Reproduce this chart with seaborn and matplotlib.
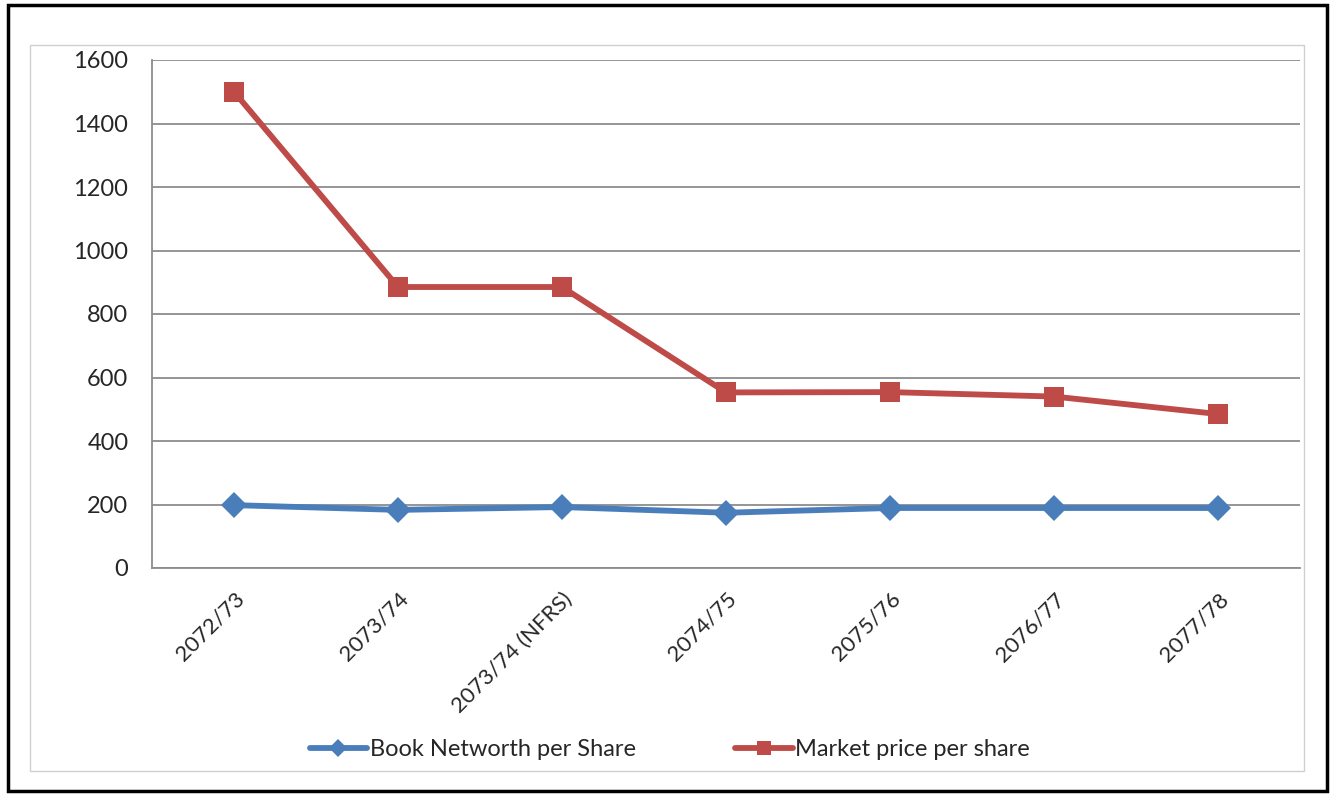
import pandas as pd
import matplotlib.pyplot as plt
import seaborn as sns
from matplotlib.patches import Rectangle

years = ['2072/73', '2073/74', '2073/74 (NFRS)', '2074/75', '2075/76', '2076/77', '2077/78']
book_networth = [198, 183, 192, 174, 189, 189, 189]
market_price = [1500, 885, 885, 553, 554, 540, 485]

df = pd.DataFrame({'Year': years,
                   'Book Networth per Share': book_networth,
                   'Market price per share': market_price})

sns.set_style('white')
plt.rcParams['font.family'] = ['Lato', 'DejaVu Sans']

fig = plt.figure(figsize=(13.34, 7.95), dpi=100)
ax = fig.add_axes([152 / 1334, 1 - 568 / 795, 1148 / 1334, 508 / 795])

blue = '#4A7EBB'
red = '#BE4B48'
grid = '#8C8C8C'

sns.lineplot(data=df, x='Year', y='Book Networth per Share', ax=ax, color=blue,
             linewidth=4.2, marker='D', markersize=13, markeredgewidth=0,
             label='Book Networth per Share', sort=False)
sns.lineplot(data=df, x='Year', y='Market price per share', ax=ax, color=red,
             linewidth=4.2, marker='s', markersize=15, markeredgewidth=0,
             label='Market price per share', sort=False)

ax.set_xlim(-0.5, len(years) - 0.5)
ax.set_ylim(0, 1600)
ax.set_yticks(range(0, 1601, 200))
ax.yaxis.grid(True, color=grid, linewidth=1.3)
ax.set_axisbelow(True)
ax.set_xlabel('')
ax.set_ylabel('')

# Excel-style: tick marks between categories, labels centred
ax.set_xticks([i - 0.5 for i in range(len(years) + 1)])
ax.set_xticklabels([])
ax.set_xticks(range(len(years)), minor=True)
ax.set_xticklabels(years, minor=True, rotation=45, ha='right', rotation_mode='anchor',
                   fontsize=16)
ax.tick_params(axis='x', which='major', length=6, width=1.3, color=grid, direction='out')
ax.tick_params(axis='x', which='minor', length=0, pad=15)
ax.tick_params(axis='y', length=5, width=1.3, color=grid, labelsize=17, pad=12)

for side in ['top', 'right']:
    ax.spines[side].set_visible(False)
for side in ['left', 'bottom']:
    ax.spines[side].set_color(grid)
    ax.spines[side].set_linewidth(1.3)

handles, labels = ax.get_legend_handles_labels()
ax.legend(handles, labels, loc='center', bbox_to_anchor=(0.502, 1 - 750 / 795),
          bbox_transform=fig.transFigure, ncol=2, frameon=False, fontsize=17,
          handlelength=2.45, markerscale=0.7, columnspacing=4.2, handletextpad=0.1)

# chart area border and outer frame
fig.patches.append(Rectangle((30 / 1334, 1 - 771 / 795), 1274 / 1334, 726 / 795,
                             transform=fig.transFigure, fill=False,
                             edgecolor='#D0D0D0', linewidth=1))
fig.patches.append(Rectangle((8 / 1334, 4 / 795), 1319 / 1334, 786 / 795,
                             transform=fig.transFigure, fill=False,
                             edgecolor='black', linewidth=2.5))

fig.savefig('out.png', dpi=100)
